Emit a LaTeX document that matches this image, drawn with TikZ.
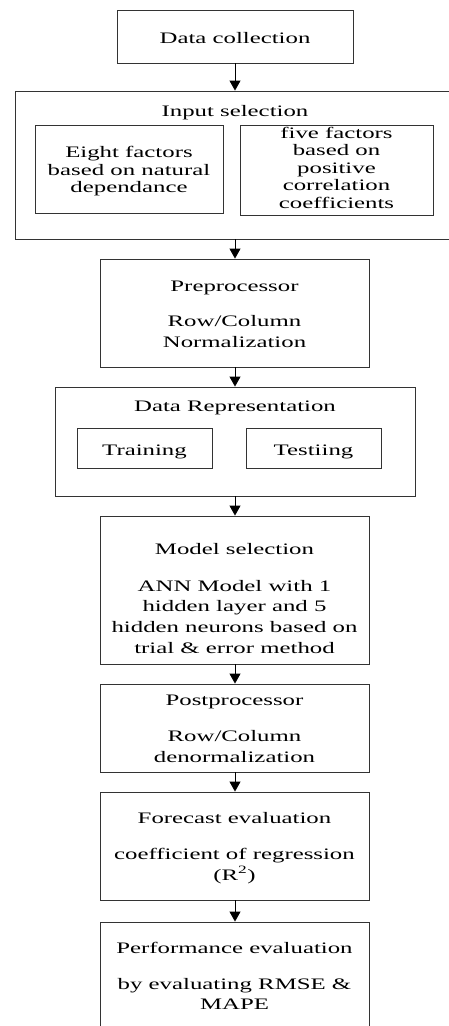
\documentclass[tikz,border=0pt]{standalone}
\usepackage{fontspec}
\setmainfont[FakeStretch=1.55]{Liberation Serif}
\usetikzlibrary{arrows.meta,fit}
\begin{document}
\begin{tikzpicture}[x=1pt,y=-1pt,
  box/.style={draw=black!80,line width=0.9pt,inner sep=0pt},
  txt/.style={anchor=base,inner sep=0pt,font=\fontsize{16}{19}\selectfont},
  arr/.style={-{Triangle[width=11pt,length=10pt]},line width=0.9pt,draw=black}]
\useasboundingbox (0,0) rectangle (449,1026);
\clip (0,0) rectangle (449,1026);
% boxes
\node[box,fit={(117,10) (353,63)}] (dc) {};
\node[box,fit={(15,91) (470,239)}] (inp) {};
\node[box,fit={(35,125) (223,213)}] (eight) {};
\node[box,fit={(240,125) (433,215)}] (five) {};
\node[box,fit={(100,259) (369,367)}] (prep) {};
\node[box,fit={(55,387) (415,496)}] (rep) {};
\node[box,fit={(77,428) (212,468)}] (train) {};
\node[box,fit={(246,428) (381,468)}] (test) {};
\node[box,fit={(100,516) (369,664)}] (model) {};
\node[box,fit={(100,684) (369,772)}] (post) {};
\node[box,fit={(100,792) (369,900)}] (fore) {};
\node[box,fit={(100,922) (369,1060)}] (perf) {};
% texts
\node[txt] (t1) at (235,43.3) {Data collection};
\node[txt] (t2) at (235,116.7) {Input selection};
\node[txt] (t3) at (129,157.7) {Eight factors};
\node[txt] (t4) at (129,175.2) {based on natural};
\node[txt] (t5) at (129,192.7) {dependance};
\node[txt] (t6) at (336.5,138.3) {five factors};
\node[txt] (t7) at (336.5,155.7) {based on};
\node[txt] (t8) at (336.5,173.1) {positive};
\node[txt] (t9) at (336.5,190.5) {correlation};
\node[txt] (t10) at (336.5,208) {coefficients};
\node[txt] (t11) at (234.5,291.7) {Preprocessor};
\node[txt] (t12) at (234.5,326.7) {Row/Column};
\node[txt] (t13) at (234.5,347.3) {Normalization};
\node[txt] (t14) at (235,411.7) {Data Representation};
\node[txt] (t15) at (144.5,455) {Training};
\node[txt] (t16) at (313.5,455) {Testiing};
\node[txt] (t17) at (234.5,554.3) {Model selection};
\node[txt] (t18) at (234.5,591) {ANN Model with 1};
\node[txt] (t19) at (234.5,611.7) {hidden layer and 5};
\node[txt] (t20) at (234.5,632.5) {hidden neurons based on};
\node[txt] (t21) at (234.5,653.3) {trial \& error method};
\node[txt] (t22) at (234.5,705) {Postprocessor};
\node[txt] (t23) at (234.5,741.7) {Row/Column};
\node[txt] (t24) at (234.5,762.4) {denormalization};
\node[txt] (t25) at (234.5,823.3) {Forecast evaluation};
\node[txt] (t26) at (234.5,859.3) {coefficient of regression};
\node[txt] (t27) at (234.5,880) {(R\textsuperscript{2})};
\node[txt] (t28) at (234.5,953.3) {Performance evaluation};
\node[txt] (t29) at (234.5,989.3) {by evaluating RMSE \&};
\node[txt] (t30) at (234.5,1009.3) {MAPE};
% arrows
\draw[arr] (dc.south) -- (dc.south |- inp.north);
\draw[arr] (dc.south |- inp.south) -- (dc.south |- prep.north);
\draw[arr] (dc.south |- prep.south) -- (dc.south |- rep.north);
\draw[arr] (dc.south |- rep.south) -- (dc.south |- model.north);
\draw[arr] (dc.south |- model.south) -- (dc.south |- post.north);
\draw[arr] (dc.south |- post.south) -- (dc.south |- fore.north);
\draw[arr] (dc.south |- fore.south) -- (dc.south |- perf.north);
\end{tikzpicture}
\end{document}
